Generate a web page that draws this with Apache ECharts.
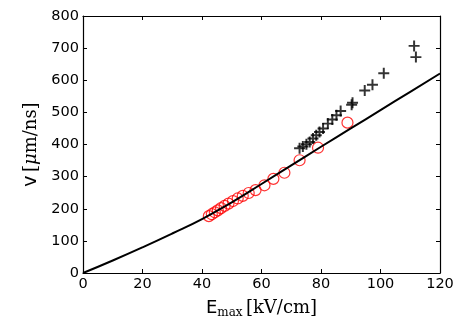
<!DOCTYPE html>
<html>
<head>
<meta charset="utf-8">
<script src="https://cdn.jsdelivr.net/npm/echarts@6/dist/echarts.min.js"></script>
<style>
  html, body { margin: 0; padding: 0; background: #fff; }
  #chart { width: 463px; height: 324px; }
</style>
</head>
<body>
<div id="chart"></div>
<script>
// 数据
const xTicks = [0, 20, 40, 60, 80, 100, 120];
const yTicks = [0, 100, 200, 300, 400, 500, 600, 700, 800];

// 理论曲线
const curveE = [0, 10, 20, 30, 40, 50, 60, 70, 80, 90, 100, 110, 120];
const curveV = [0, 39, 80, 123, 168, 220, 277, 335, 393, 450, 507, 564, 621];

// 红色圆圈
const circleE = [42.3, 43.3, 44.3, 45.3, 46.4, 47.6, 48.9, 50.4, 52.0, 53.7, 55.7, 58.0, 61.0, 64.0, 67.7, 72.8, 79.0, 88.9];
const circleV = [177, 183, 189, 195, 202, 209, 216, 224, 232, 240, 249, 258, 273, 293, 312, 351, 390, 468];

// 黑色加号
const plusE = [72.8, 73.9, 75.1, 76.2, 77.3, 78.4, 79.5, 80.7, 82.3, 83.8, 85.2, 86.6, 90.3, 90.6, 94.7, 97.3, 101.1, 111.3, 111.9];
const plusV = [388, 394, 401, 408, 419, 429, 439, 450, 465, 478, 491, 504, 524, 530, 568, 586, 622, 707, 672];

const dom = document.getElementById('chart');
const myChart = echarts.init(dom);

const zip = (a, b) => a.map((v, i) => [v, b[i]]);
const sans = 'DejaVu Sans';
const serif = 'DejaVu Serif';

const baseAxis = {
    type: 'value',
    splitLine: { show: false },
    axisLine: { show: true, onZero: false, lineStyle: { color: '#000', width: 1.2 } },
    axisTick: { show: true, inside: true, length: 4, lineStyle: { color: '#000', width: 1 } }
};

const option = {
    backgroundColor: '#fff',
    animation: false,
    grid: { left: 83, right: 23, top: 16, bottom: 48 },
    xAxis: [
        Object.assign({}, baseAxis, {
            min: xTicks[0], max: xTicks[xTicks.length - 1], interval: 20,
            position: 'bottom',
            axisLabel: { color: '#000', fontFamily: sans, fontSize: 14.5, margin: 4 },
            name: '{a|E}{b|max} {c|[kV/cm]}',
            nameLocation: 'middle',
            nameGap: 25,
            nameTextStyle: {
                rich: {
                    a: { fontFamily: sans, fontSize: 18, color: '#000' },
                    b: { fontFamily: serif, fontSize: 12, color: '#000', padding: [9, 0, 0, 0] },
                    c: { fontFamily: serif, fontSize: 18, color: '#000' }
                }
            }
        }),
        Object.assign({}, baseAxis, {
            min: 0, max: 120, interval: 20, position: 'top',
            axisLabel: { show: false }
        })
    ],
    yAxis: [
        Object.assign({}, baseAxis, {
            min: yTicks[0], max: yTicks[yTicks.length - 1], interval: 100,
            position: 'left',
            axisLabel: { color: '#000', fontFamily: sans, fontSize: 14.5, margin: 4 },
            name: '{a|v} {c|[}{d|μ}{c|m/ns]}',
            nameLocation: 'middle',
            nameGap: 40,
            nameRotate: 90,
            nameTextStyle: {
                rich: {
                    a: { fontFamily: sans, fontSize: 19, color: '#000' },
                    c: { fontFamily: serif, fontSize: 18, color: '#000' },
                    d: { fontFamily: serif, fontSize: 18, fontStyle: 'italic', color: '#000' }
                }
            }
        }),
        Object.assign({}, baseAxis, {
            min: 0, max: 800, interval: 100, position: 'right',
            axisLabel: { show: false }
        })
    ],
    series: [
        {
            type: 'scatter',
            data: zip(circleE, circleV),
            symbol: 'circle',
            symbolSize: 11,
            itemStyle: { color: 'rgba(0,0,0,0)', borderColor: '#ff0000', borderWidth: 1.2 },
            z: 2
        },
        {
            type: 'line',
            data: zip(curveE, curveV),
            smooth: true,
            showSymbol: false,
            lineStyle: { color: '#000', width: 2 },
            z: 3
        },
        {
            type: 'scatter',
            data: zip(plusE, plusV),
            symbol: 'path://M4.1,0H5.9V4.1H10V5.9H5.9V10H4.1V5.9H0V4.1H4.1Z',
            symbolSize: 11,
            itemStyle: { color: '#000' },
            z: 4
        }
    ]
};

myChart.setOption(option);

window.addEventListener('resize', function () {
    myChart.resize();
});
</script>
</body>
</html>
